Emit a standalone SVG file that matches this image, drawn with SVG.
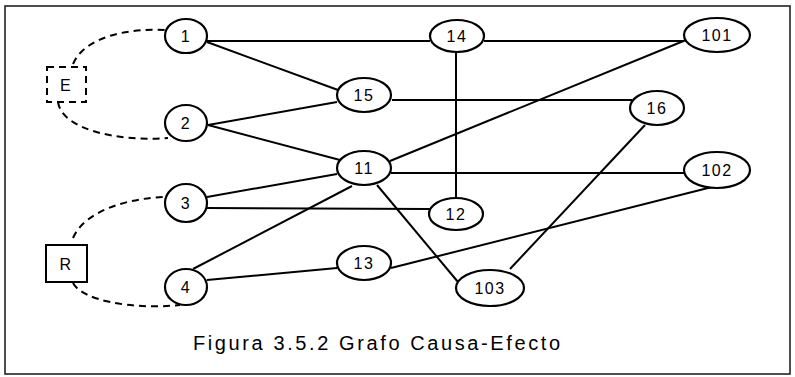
<svg xmlns="http://www.w3.org/2000/svg" width="795" height="377" viewBox="0 0 795 377">
<style>
.n{fill:#fff;stroke:#000;stroke-width:2.2}
.t{font-family:"Liberation Sans",Arial,sans-serif;font-size:16px;fill:#000;text-anchor:middle;dominant-baseline:central;letter-spacing:1.5px}
.c line{stroke:#000;stroke-width:2}
.d{fill:none;stroke:#000;stroke-width:2;stroke-dasharray:7,5}
</style>
<rect x="5" y="6" width="785" height="368" fill="#fff" stroke="#222" stroke-width="1.6"/>
<g class="c" id="connectors">
<line x1="207" y1="41" x2="430" y2="41"/>
<line x1="484" y1="41" x2="684" y2="41"/>
<line x1="207" y1="42" x2="338" y2="90"/>
<line x1="208" y1="125" x2="337" y2="102"/>
<line x1="208" y1="125" x2="340" y2="160"/>
<line x1="392" y1="100" x2="632" y2="100"/>
<line x1="456" y1="52" x2="456" y2="198"/>
<line x1="390" y1="161" x2="686" y2="40"/>
<line x1="391" y1="173" x2="684" y2="173"/>
<line x1="207" y1="197" x2="337" y2="174"/>
<line x1="207" y1="208" x2="430" y2="209"/>
<line x1="193" y1="269" x2="352" y2="186"/>
<line x1="207" y1="280" x2="337" y2="268"/>
<line x1="391" y1="268" x2="712" y2="187"/>
<line x1="377" y1="185" x2="458" y2="282"/>
<line x1="645" y1="125" x2="510" y2="269"/>
<path class="d" d="M73,64 C85,36 130,28 165,30"/>
<path class="d" d="M58,102 C62,130 120,142 168,138"/>
<path class="d" d="M73,238 C85,210 130,198 165,197"/>
<path class="d" d="M73,283 C82,300 130,310 180,305"/>
</g>
<g id="E"><rect x="47" y="67" width="39" height="35" fill="#fff" stroke="#000" stroke-width="2" stroke-dasharray="7,5"/><text class="t" x="66" y="85">E</text></g>
<g id="R"><rect x="46" y="245" width="41" height="37" fill="#fff" stroke="#000" stroke-width="2"/><text class="t" x="66" y="264">R</text></g>
<g id="n1"><ellipse class="n" cx="186" cy="36" rx="21" ry="17"/><text class="t" x="186" y="36">1</text></g>
<g id="n2"><ellipse class="n" cx="186" cy="123" rx="21" ry="18"/><text class="t" x="186" y="123">2</text></g>
<g id="n3"><ellipse class="n" cx="186" cy="203" rx="21" ry="19"/><text class="t" x="186" y="203">3</text></g>
<g id="n4"><ellipse class="n" cx="186" cy="287" rx="21" ry="18"/><text class="t" x="186" y="287">4</text></g>
<g id="n15"><ellipse class="n" cx="364" cy="95" rx="27" ry="17"/><text class="t" x="364" y="95">15</text></g>
<g id="n11"><ellipse class="n" cx="364" cy="168" rx="27" ry="17"/><text class="t" x="364" y="168">11</text></g>
<g id="n13"><ellipse class="n" cx="364" cy="263" rx="27" ry="17"/><text class="t" x="364" y="263">13</text></g>
<g id="n14"><ellipse class="n" cx="457" cy="36" rx="27" ry="16"/><text class="t" x="457" y="36">14</text></g>
<g id="n12"><ellipse class="n" cx="456" cy="214" rx="27" ry="16"/><text class="t" x="456" y="214">12</text></g>
<g id="n103"><ellipse class="n" cx="490" cy="288" rx="34" ry="18"/><text class="t" x="490" y="288">103</text></g>
<g id="n16"><ellipse class="n" cx="657" cy="108" rx="27" ry="17"/><text class="t" x="657" y="108">16</text></g>
<g id="n101"><ellipse class="n" cx="717" cy="35" rx="33" ry="17"/><text class="t" x="717" y="35">101</text></g>
<g id="n102"><ellipse class="n" cx="717" cy="170" rx="33" ry="18"/><text class="t" x="717" y="170">102</text></g>
<text x="193" y="350" font-family="'Liberation Sans',Arial,sans-serif" font-size="20" letter-spacing="2.6" fill="#000">Figura 3.5.2 Grafo Causa-Efecto</text>
</svg>
